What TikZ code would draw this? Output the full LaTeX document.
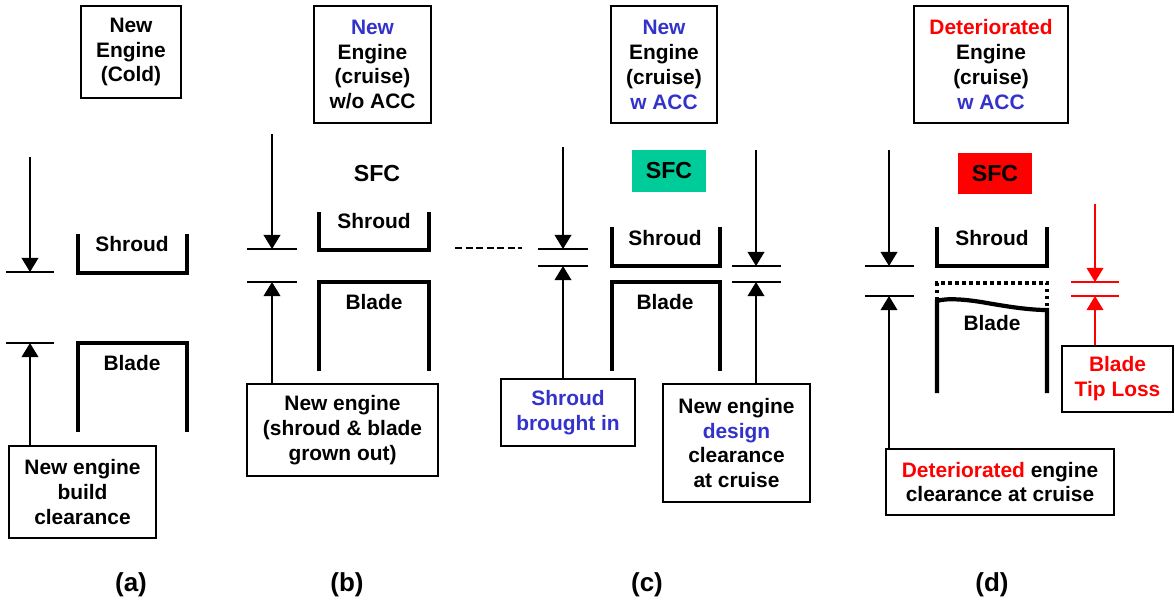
\documentclass[tikz,border=0pt]{standalone}
\usepackage{fontspec}
\setmainfont{Liberation Sans}
\usetikzlibrary{arrows.meta}
\definecolor{accblue}{RGB}{51,51,204}
\definecolor{sfcgreen}{RGB}{0,204,153}

\begin{document}
\begin{tikzpicture}[x=0.02cm,y=-0.02cm,
    >={Triangle[length=8pt,width=9.5pt]},
    every node/.style={font=\fontsize{11.9}{14.2}\selectfont\bfseries,inner sep=0pt,align=center},
    box/.style={draw,line width=0.9pt},
    wall/.style={line width=2.4pt,line join=miter},
    gap/.style={line width=0.85pt},
    sfc/.style={font=\fontsize{13.2}{15}\selectfont\bfseries},
    caption/.style={font=\fontsize{14.8}{17}\selectfont\bfseries}]
        % 画布
        \useasboundingbox (0,0) rectangle (1175,606);
        % (a) 冷态新发动机
        \node[box,minimum width=2cm,minimum height=1.84cm] (ta) at (131,52) {New\\Engine\\(Cold)};
        \draw[wall] (78,234) |- (187,273) -- (187,234);
        \node (sha) at (132,244) {Shroud};
        \draw[wall] (78,432) |- (187,343) -- (187,432);
        \node (bla) at (132,363) {Blade};
        \coordinate (a1) at (30,157);
        \coordinate (a2) at (30,272);
        \coordinate (a3) at (30,343);
        \draw[gap] (6,272) -- (54,272);
        \draw[gap] (6,343) -- (54,343);
        \draw[gap,->] (a1) -- (a2);
        \node[box,minimum width=2.94cm,minimum height=1.84cm] (ba) at (82.5,492) {New engine\\build\\clearance};
        \draw[gap,->] (ba.north -| a3) -- (a3);
        \node[caption] (la) at (131,585) {(a)};
        % (b) 巡航, 无ACC
        \node[box,minimum width=2.34cm,minimum height=2.34cm] (tb) at (372.5,64.5) {\textcolor{accblue}{New}\\Engine\\(cruise)\\w/o ACC};
        \node[sfc] (sfcb) at (377,174) {SFC};
        \draw[wall] (319,212) |- (429,250) -- (429,212);
        \node (shb) at (374,221) {Shroud};
        \draw[wall] (319,371) |- (429,282) -- (429,371);
        \node (blb) at (374,302) {Blade};
        \coordinate (b1) at (272,134);
        \coordinate (b2) at (272,249);
        \coordinate (b3) at (272,282);
        \draw[gap] (247,249) -- (297,249);
        \draw[gap] (247,282) -- (297,282);
        \draw[gap,->] (b1) -- (b2);
        \node[box,minimum width=3.82cm,minimum height=1.84cm] (bb) at (342.5,430) {New engine\\(shroud \& blade\\grown out)};
        \draw[gap,->] (bb.north -| b3) -- (b3);
        \node[caption] (lb) at (347,585) {(b)};
        % 虚线
        \draw[gap,dash pattern=on 4pt off 2pt] (455,248) -- (522,248);
        % (c) 巡航, 有ACC
        \node[box,minimum width=2.12cm,minimum height=2.34cm] (tc) at (664,64.5) {\textcolor{accblue}{New}\\Engine\\(cruise)\\\textcolor{accblue}{w ACC}};
        \node[sfc,fill=sfcgreen,minimum width=1.48cm,minimum height=0.84cm] (sfcc) at (669,171) {SFC};
        \draw[wall] (612,227) |- (720,266) -- (720,227);
        \node (shc) at (665,238) {Shroud};
        \draw[wall] (612,371) |- (720,282) -- (720,371);
        \node (blc) at (665,302) {Blade};
        \coordinate (c1) at (563,147);
        \coordinate (c2) at (563,249);
        \coordinate (c3) at (563,266);
        \draw[gap] (538,249) -- (588,249);
        \draw[gap] (538,266) -- (588,266);
        \draw[gap,->] (c1) -- (c2);
        \node[box,minimum width=2.68cm,minimum height=1.34cm] (bc1) at (568,412.5) {\textcolor{accblue}{Shroud}\\\textcolor{accblue}{brought in}};
        \draw[gap,->] (bc1.north -| c3) -- (c3);
        \coordinate (c4) at (756,150);
        \coordinate (c5) at (756,266);
        \coordinate (c6) at (756,282);
        \draw[gap] (732,266) -- (781,266);
        \draw[gap] (732,282) -- (781,282);
        \draw[gap,->] (c4) -- (c5);
        \node[box,minimum width=2.94cm,minimum height=2.36cm] (bc2) at (736.5,443) {New engine\\\textcolor{accblue}{design}\\clearance\\at cruise};
        \draw[gap,->] (bc2.north -| c6) -- (c6);
        \node[caption] (lc) at (647,585) {(c)};
        % (d) 劣化发动机
        \node[box,minimum width=3.08cm,minimum height=2.34cm] (td) at (991,64.5) {\textcolor{red}{Deteriorated}\\Engine\\(cruise)\\\textcolor{accblue}{w ACC}};
        \node[sfc,fill=red,minimum width=1.48cm,minimum height=0.82cm] (sfcd) at (995,173.5) {SFC};
        \draw[wall] (937,227) |- (1047,266) -- (1047,227);
        \node (shd) at (992,238) {Shroud};
        \draw[wall,dash pattern=on 0.07cm off 0.07cm] (937,300) |- (1047,283) -- (1047,310);
        \draw[wall] (937,393) -- (937,301) .. controls (945,298) and (965,299) .. (987,303)
            .. controls (1010,307) and (1030,310) .. (1047,310) -- (1047,393);
        \node (bld) at (992,323) {Blade};
        \coordinate (d1) at (889,150);
        \coordinate (d2) at (889,266);
        \coordinate (d3) at (889,296);
        \draw[gap] (865,266) -- (914,266);
        \draw[gap] (865,296) -- (914,296);
        \draw[gap,->] (d1) -- (d2);
        \node[box,minimum width=4.56cm,minimum height=1.32cm] (bd2) at (1000,482) {\textcolor{red}{Deteriorated} engine\\clearance at cruise};
        \draw[gap,->] (bd2.north -| d3) -- (d3);
        \coordinate (d4) at (1095,204);
        \coordinate (d5) at (1095,282);
        \coordinate (d6) at (1095,296);
        \draw[gap,red] (1071,282) -- (1119,282);
        \draw[gap,red] (1071,296) -- (1119,296);
        \draw[gap,red,->] (d4) -- (d5);
        \node[box,minimum width=2.22cm,minimum height=1.32cm] (bd1) at (1117.5,379) {\textcolor{red}{Blade}\\\textcolor{red}{Tip Loss}};
        \draw[gap,red,->] (bd1.north -| d6) -- (d6);
        \node[caption] (ld) at (992,585) {(d)};
\end{tikzpicture}
\end{document}
